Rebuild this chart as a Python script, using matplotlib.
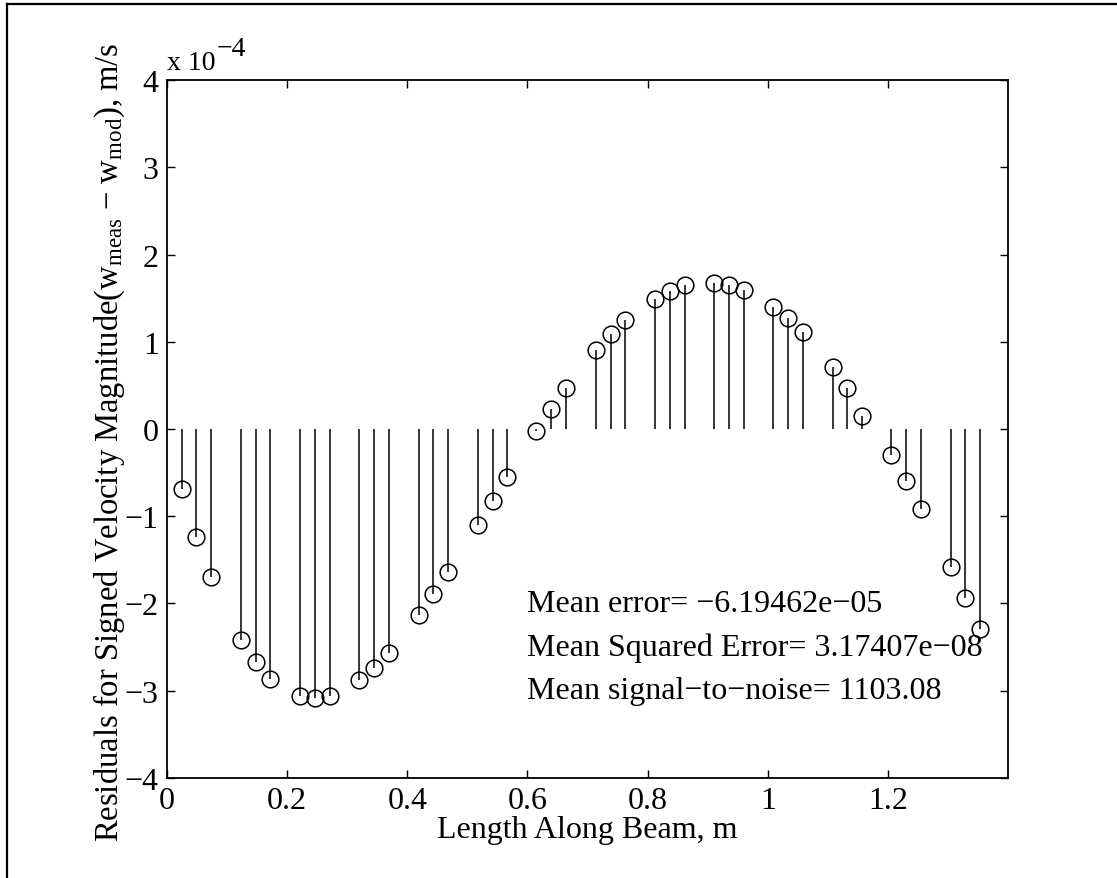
import matplotlib
matplotlib.use('Agg')
import matplotlib.pyplot as plt
from matplotlib.lines import Line2D

plt.rcParams['font.family'] = ['Liberation Serif', 'DejaVu Serif']
plt.rcParams['mathtext.fontset'] = 'custom'
plt.rcParams['mathtext.rm'] = 'Liberation Serif'
plt.rcParams['mathtext.it'] = 'Liberation Serif:italic'

# positions along the beam (m)
x_pos = [0.025, 0.049, 0.074, 0.123, 0.148, 0.172, 0.222, 0.246, 0.271,
         0.320, 0.345, 0.369, 0.419, 0.443, 0.468, 0.517, 0.542, 0.566,
         0.615, 0.640, 0.665, 0.714, 0.739, 0.763, 0.812, 0.837, 0.862,
         0.911, 0.935, 0.960, 1.009, 1.034, 1.059, 1.108, 1.132, 1.157,
         1.206, 1.231, 1.256, 1.305, 1.329, 1.354]

# residuals, units of 1e-4 m/s
resid = [-0.69, -1.235, -1.70, -2.42, -2.67, -2.86, -3.06, -3.08, -3.06,
         -2.88, -2.74, -2.565, -2.13, -1.89, -1.64, -1.10, -0.82, -0.55,
         -0.02, 0.226, 0.47, 0.91, 1.09, 1.25, 1.49, 1.58, 1.645,
         1.674, 1.65, 1.59, 1.40, 1.27, 1.11, 0.71, 0.467, 0.153,
         -0.298, -0.596, -0.917, -1.586, -1.934, -2.293]

stats = ['Mean error= \u22126.19462e\u221205',
         'Mean Squared Error= 3.17407e\u221208',
         'Mean signal\u2212to\u2212noise= 1103.08']
stats_y = [-2.0, -2.5, -3.0]

x_ticks = [0, 0.2, 0.4, 0.6, 0.8, 1, 1.2]
x_labels = ['0', '0.2', '0.4', '0.6', '0.8', '1', '1.2']
y_ticks = [-4, -3, -2, -1, 0, 1, 2, 3, 4]
y_labels = ['\u22124', '\u22123', '\u22122', '\u22121', '0', '1', '2', '3', '4']

fs = 23

fig = plt.figure(figsize=(11.17, 8.79), dpi=100)
ax = fig.add_axes([0.1495, 0.1138, 0.7529, 0.794])

ax.vlines(x_pos, 0, resid, colors='black', linewidth=1.1)
ax.plot(x_pos, resid, linestyle='none', marker='o', markersize=12,
        markerfacecolor='none', markeredgecolor='black', markeredgewidth=1.1)

ax.set_xlim(0, 1.4)
ax.set_ylim(-4, 4)
ax.set_xticks(x_ticks)
ax.set_xticklabels(x_labels)
ax.set_yticks(y_ticks)
ax.set_yticklabels(y_labels)
ax.tick_params(direction='in', length=6, width=1, top=True, right=True,
               labelsize=fs, pad=6)
for s in ax.spines.values():
    s.set_linewidth(1.3)

ax.set_xlabel('Length Along Beam, m', fontsize=fs, labelpad=0)
ax.set_ylabel('Residuals for Signed Velocity Magnitude(w$_{\\mathrm{meas}}$ '
              '\u2212 w$_{\\mathrm{mod}}$), m/s', fontsize=23.5)
ax.yaxis.set_label_coords(-0.047, 0.483)

# exponent label above the y axis
t1 = ax.text(0.0, 1.016, 'x 10', transform=ax.transAxes,
             fontsize=20, ha='left', va='baseline')
ax.annotate('\u22124', xy=(1, 0), xycoords=t1, xytext=(1, 10),
            textcoords='offset points', fontsize=20, ha='left', va='bottom')

for t, yy in zip(stats, stats_y):
    ax.text(0.6, yy, t, fontsize=fs, ha='left', va='center')

# outer frame lines (top and left)
fig.add_artist(Line2D([7 / 1117, 1.0], [1 - 5 / 879, 1 - 5 / 879],
                      color='black', linewidth=1.6, transform=fig.transFigure))
fig.add_artist(Line2D([7 / 1117, 7 / 1117], [0.0, 1 - 5 / 879],
                      color='black', linewidth=1.6, transform=fig.transFigure))

fig.savefig('out.png', dpi=100)
